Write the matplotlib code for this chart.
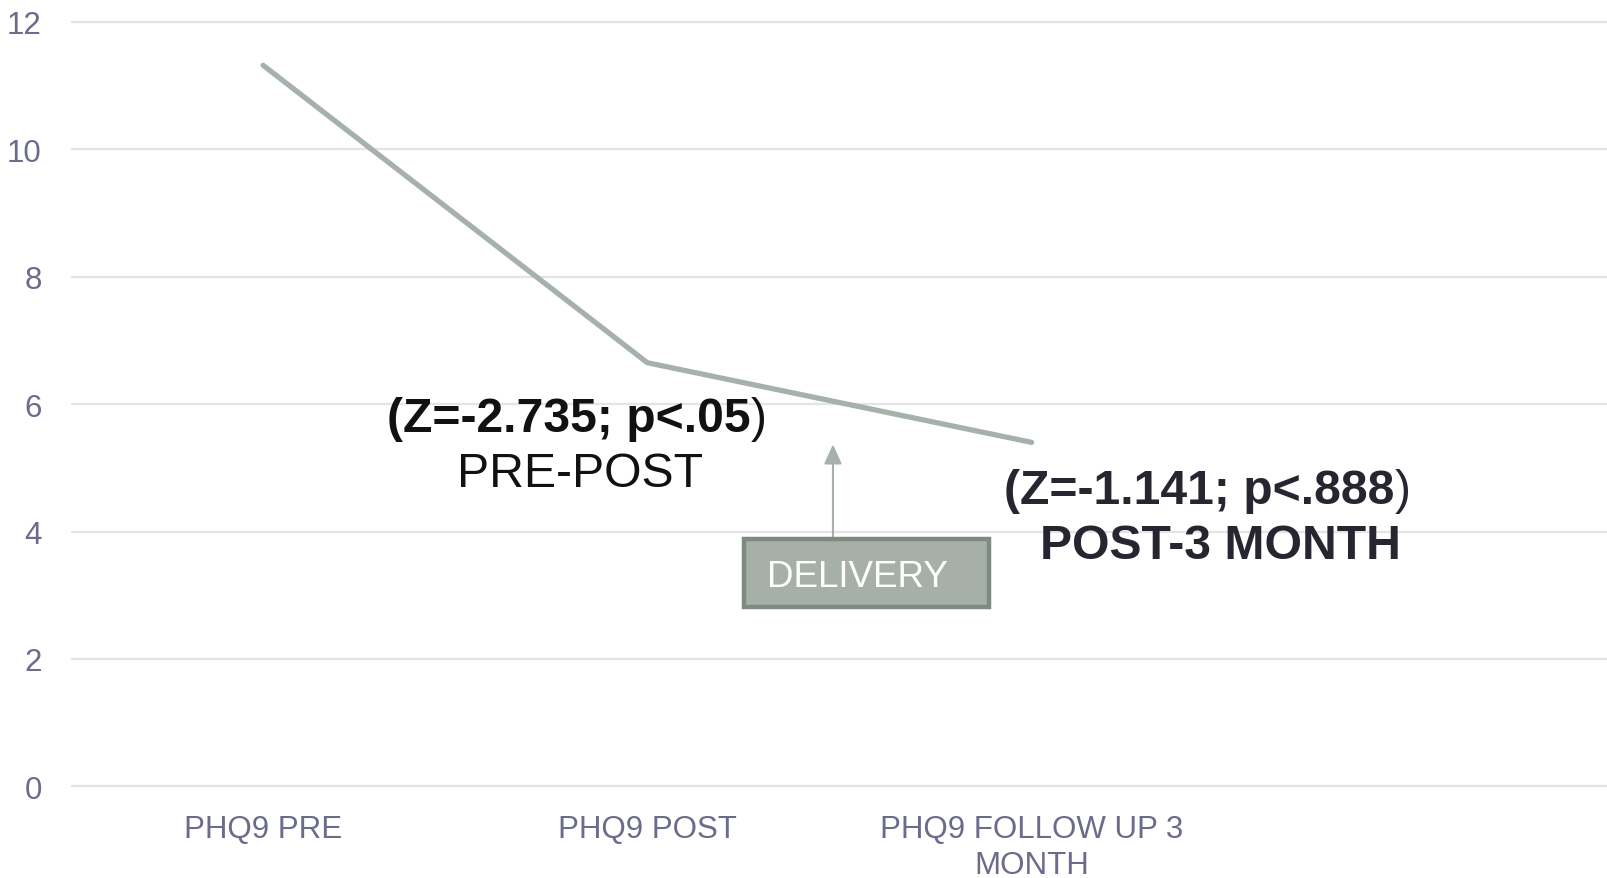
import matplotlib
matplotlib.use("Agg")
import matplotlib.pyplot as plt
from matplotlib.patches import Rectangle

# PHQ-9 mean scores across time points
categories = ["PHQ9 PRE", "PHQ9 POST", "PHQ9 FOLLOW UP 3\nMONTH", ""]
phq9_means = [11.32, 6.65, 5.40]
y_ticks = [0, 2, 4, 6, 8, 10, 12]

TICK_COLOR = "#6b6b8b"
LINE_COLOR = "#a6b1aa"
GRID_COLOR = "#e3e3ea"
FONT = ["Liberation Sans", "DejaVu Sans"]
ANNOT_SIZE = 34.7

plt.rcParams["font.family"] = FONT

W, H = 1608, 879
fig = plt.figure(figsize=(W / 100, H / 100), dpi=100)

ax_left, ax_right = 71, 1608
ax_top, ax_bottom = 19.8, 790.5
ax = fig.add_axes([ax_left / W, 1 - ax_bottom / H,
                   (ax_right - ax_left) / W, (ax_bottom - ax_top) / H])

x = list(range(len(phq9_means)))
ax.plot(x, phq9_means, color=LINE_COLOR, lw=3.8, solid_capstyle="round",
        solid_joinstyle="round", zorder=3)

ax.set_xlim(-0.5, len(categories) - 0.5)
ax.set_ylim(-0.05, 12.05)
ax.set_yticks(y_ticks)
ax.set_yticklabels([str(v) for v in y_ticks])
ax.set_xticks(range(len(categories)))
ax.set_xticklabels(categories, linespacing=1.25)

ax.tick_params(axis="y", length=0, pad=21, labelsize=22.5, labelcolor=TICK_COLOR)
ax.tick_params(axis="x", length=0, pad=17.5, labelsize=22.5, labelcolor=TICK_COLOR)
for s in ax.spines.values():
    s.set_visible(False)
ax.yaxis.grid(True, color=GRID_COLOR, lw=1.6)
ax.xaxis.grid(False)
ax.set_axisbelow(True)

# Statistical test annotations
ax.text(1.270, 5.578, "(Z=-2.735; p<.05", ha="right", va="baseline",
        fontsize=ANNOT_SIZE, fontweight="bold", color="#111111")
ax.text(1.270, 5.578, ")", ha="left", va="baseline", fontsize=ANNOT_SIZE,
        color="#111111")
ax.text(0.826, 4.715, "PRE-POST", ha="center", va="baseline",
        fontsize=ANNOT_SIZE, color="#111111")

ax.text(2.945, 4.455, "(Z=-1.141; p<.888", ha="right", va="baseline",
        fontsize=ANNOT_SIZE, fontweight="bold", color="#262631")
ax.text(2.945, 4.455, ")", ha="left", va="baseline", fontsize=ANNOT_SIZE,
        color="#262631")
ax.text(2.491, 3.592, "POST-3 MONTH", ha="center", va="baseline",
        fontsize=ANNOT_SIZE, fontweight="bold", color="#262631")

# Delivery callout box with arrow
box = Rectangle((1.252, 2.81), 0.636, 1.07, facecolor="#a6afa8",
                edgecolor="#7f8a80", lw=3.2, zorder=4)
ax.add_patch(box)
ax.text(1.312, 3.29, "DELIVERY", ha="left", va="center", fontsize=26.5,
        color="white", zorder=5)
ax.annotate("", xy=(1.483, 5.37), xytext=(1.483, 3.88),
            arrowprops=dict(arrowstyle="-|>,head_length=0.6,head_width=0.27",
                            mutation_scale=20, color=LINE_COLOR, lw=1.5,
                            shrinkA=0, shrinkB=0), zorder=3)

fig.savefig("out.png", dpi=100, facecolor="white")
